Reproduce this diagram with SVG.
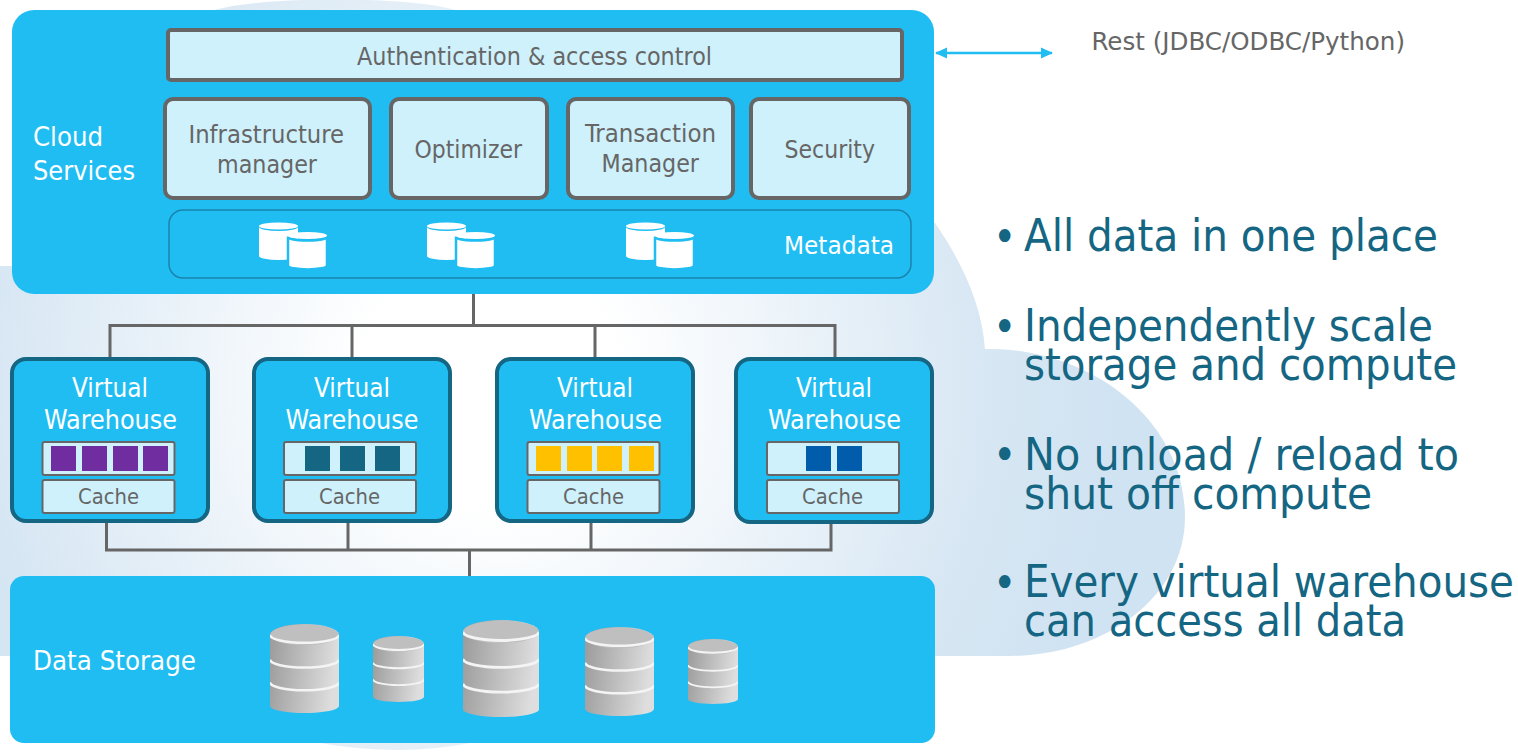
<svg xmlns="http://www.w3.org/2000/svg" xmlns:xlink="http://www.w3.org/1999/xlink" width="1518" height="755" viewBox="0 0 1518 755">
<style>
text{font-family:"DejaVu Sans Condensed","DejaVu Sans","Liberation Sans",sans-serif;font-stretch:condensed}
.panel{fill:#20BDF3}
.box{fill:#CFF1FC;stroke:#666;stroke-width:4}
.slot{fill:#CFF1FC;stroke:#666;stroke-width:2}
.vw{fill:#20BDF3;stroke:#146683;stroke-width:4}
.g{fill:#666;font-size:25px}
.w{fill:#fff;font-size:27px}
.c{fill:#666;font-size:22px}
.b{fill:#146683;font-size:44px}
.lnk{fill:none;stroke:#666;stroke-width:3}
.db{fill:#fff}
.band{fill:none;stroke:#f4f4f4;stroke-width:2.6}
</style>
<defs>
<radialGradient id="cloudFill" gradientUnits="userSpaceOnUse" cx="490" cy="380" r="640">
<stop offset="0.2" stop-color="#fff"/><stop offset="0.8" stop-color="#D6E6F3"/><stop offset="1" stop-color="#D0E3F2"/>
</radialGradient>
<linearGradient id="cyl" x1="0" x2="1" y1="0" y2="0.15">
<stop offset="0" stop-color="#9a9a9a"/><stop offset="1" stop-color="#dedede"/>
</linearGradient>
<symbol id="store" viewBox="0 0 70 90" preserveAspectRatio="none">
<path d="M0 11A35 11 0 0 1 70 11V83A35 7 0 0 1 0 83Z" fill="url(#cyl)"/>
<ellipse cx="35" cy="11" rx="35" ry="10.500" fill="#bfbfbf"/>
<path class="band" d="M0 11A35 8 0 0 0 70 11M0 36A35 8 0 0 0 70 36M0 59A35 8 0 0 0 70 59"/>
</symbol>
<symbol id="mini" viewBox="-2 -2 43 43" overflow="visible">
<path d="M0 5A19.500 4 0 0 0 39 5V34A19.500 4 0 0 1 0 34Z"/>
<ellipse cx="19.500" cy="4" rx="19.500" ry="3.600" stroke="none"/>
</symbol>
<g id="pair">
<use xlink:href="#mini" href="#mini" x="-2" y="-2" width="43" height="43" class="db"/>
<use xlink:href="#mini" href="#mini" x="27" y="7.500" width="43" height="43" class="db" stroke="#20BDF3" stroke-width="2.500"/>
</g>
<marker id="ah" viewBox="0 0 12 12" refX="11" refY="6" markerWidth="12" markerHeight="12" markerUnits="userSpaceOnUse" orient="auto-start-reverse">
<path d="M0 0.500L12 6L0 11.500Z" fill="#20BDF3"/>
</marker>
</defs>

<path id="cloud" fill="url(#cloudFill)" d="M0 266H20L215 10C260 -4 410 -4 455 10L935 223C962 262 982 305 985 349C1090 347 1185 420 1185 517C1185 600 1100 656 1010 656H470V743Q400 757 320 743V656H0Z"/>

<g id="connectors">
<path class="lnk" d="M473.500 294V325.500M110 357V325.500H835V357M352 325.500V357M595 325.500V357"/>
<path class="lnk" d="M106.500 523V550H831V523M348 523V550M591 523V550M469.500 550V577"/>
<path d="M936 53H1052" fill="none" stroke="#20BDF3" stroke-width="2.400" marker-start="url(#ah)" marker-end="url(#ah)"/>
</g>

<g id="cloud-services">
<rect class="panel" x="12" y="10" width="922" height="284" rx="22"/>
<text class="w" x="33" y="146" textLength="70" lengthAdjust="spacingAndGlyphs">Cloud</text>
<text class="w" x="33" y="180" textLength="102" lengthAdjust="spacingAndGlyphs">Services</text>
</g>
<g id="auth"><rect class="box" x="168" y="30" width="734" height="50" rx="3"/>
<text class="g" x="357" y="65" textLength="355" lengthAdjust="spacingAndGlyphs">Authentication &amp; access control</text></g>
<g id="infra"><rect class="box" x="165" y="99" width="205" height="99" rx="8"/>
<text class="g" x="188.500" y="143" textLength="155.500" lengthAdjust="spacingAndGlyphs">Infrastructure</text>
<text class="g" x="217" y="173" textLength="100" lengthAdjust="spacingAndGlyphs">manager</text></g>
<g id="optimizer"><rect class="box" x="391" y="99" width="156" height="99" rx="8"/>
<text class="g" x="414.500" y="158" textLength="107.500" lengthAdjust="spacingAndGlyphs">Optimizer</text></g>
<g id="transaction"><rect class="box" x="568" y="99" width="165" height="99" rx="8"/>
<text class="g" x="585" y="142" textLength="131" lengthAdjust="spacingAndGlyphs">Transaction</text>
<text class="g" x="601.500" y="172" textLength="97.500" lengthAdjust="spacingAndGlyphs">Manager</text></g>
<g id="security"><rect class="box" x="751" y="99" width="158" height="99" rx="8"/>
<text class="g" x="784.500" y="158" textLength="90.500" lengthAdjust="spacingAndGlyphs">Security</text></g>
<g id="metadata">
<rect x="169" y="210" width="742" height="68" rx="14" fill="none" stroke="#1A84AC" stroke-width="1.500"/>
<use xlink:href="#pair" href="#pair" x="259" y="222"/>
<use xlink:href="#pair" href="#pair" x="427" y="222"/>
<use xlink:href="#pair" href="#pair" x="626" y="222"/>
<text class="g" style="fill:#fff" x="784" y="254" textLength="110" lengthAdjust="spacingAndGlyphs">Metadata</text>
</g>

<g id="vw1"><rect class="vw" x="12" y="359" width="196" height="162" rx="14"/>
<text class="w" x="72" y="397" textLength="76" lengthAdjust="spacingAndGlyphs">Virtual</text>
<text class="w" x="44" y="429" textLength="133" lengthAdjust="spacingAndGlyphs">Warehouse</text>
<rect class="slot" x="42.500" y="442" width="132" height="33" rx="2"/>
<g fill="#6F2DA0"><rect x="51" y="446" width="25" height="25"/><rect x="82" y="446" width="25" height="25"/><rect x="113" y="446" width="25" height="25"/><rect x="143" y="446" width="25" height="25"/></g>
<rect class="slot" x="42.500" y="480" width="132" height="33" rx="2"/>
<text class="c" x="78" y="504" textLength="61" lengthAdjust="spacingAndGlyphs">Cache</text></g>

<g id="vw2"><rect class="vw" x="254" y="359" width="196" height="162" rx="14"/>
<text class="w" x="314" y="397" textLength="76" lengthAdjust="spacingAndGlyphs">Virtual</text>
<text class="w" x="285.500" y="429" textLength="133" lengthAdjust="spacingAndGlyphs">Warehouse</text>
<rect class="slot" x="284" y="442" width="132" height="33" rx="2"/>
<g fill="#146683"><rect x="305" y="446" width="25" height="25"/><rect x="340" y="446" width="25" height="25"/><rect x="375" y="446" width="25" height="25"/></g>
<rect class="slot" x="284" y="480" width="132" height="33" rx="2"/>
<text class="c" x="319" y="504" textLength="61" lengthAdjust="spacingAndGlyphs">Cache</text></g>

<g id="vw3"><rect class="vw" x="497" y="359" width="196" height="162" rx="14"/>
<text class="w" x="557" y="397" textLength="76" lengthAdjust="spacingAndGlyphs">Virtual</text>
<text class="w" x="529" y="429" textLength="133" lengthAdjust="spacingAndGlyphs">Warehouse</text>
<rect class="slot" x="527.500" y="442" width="132" height="33" rx="2"/>
<g fill="#FFC000"><rect x="536" y="446" width="25" height="25"/><rect x="567" y="446" width="25" height="25"/><rect x="597" y="446" width="25" height="25"/><rect x="629" y="446" width="25" height="25"/></g>
<rect class="slot" x="527.500" y="480" width="132" height="33" rx="2"/>
<text class="c" x="563" y="504" textLength="61" lengthAdjust="spacingAndGlyphs">Cache</text></g>

<g id="vw4"><rect class="vw" x="736" y="359" width="196" height="163" rx="14"/>
<text class="w" x="796" y="397" textLength="76" lengthAdjust="spacingAndGlyphs">Virtual</text>
<text class="w" x="768" y="429" textLength="133" lengthAdjust="spacingAndGlyphs">Warehouse</text>
<rect class="slot" x="767" y="442" width="132" height="33" rx="2"/>
<g fill="#015CAB"><rect x="806" y="446" width="25" height="25"/><rect x="837" y="446" width="25" height="25"/></g>
<rect class="slot" x="767" y="480" width="132" height="33" rx="2"/>
<text class="c" x="802" y="504" textLength="61" lengthAdjust="spacingAndGlyphs">Cache</text></g>

<g id="data-storage">
<rect class="panel" x="10" y="576" width="925" height="167" rx="14"/>
<text class="w" x="33" y="670" textLength="163" lengthAdjust="spacingAndGlyphs">Data Storage</text>
<use xlink:href="#store" href="#store" x="270" y="624" width="69" height="89"/>
<use xlink:href="#store" href="#store" x="373" y="636" width="51" height="66"/>
<use xlink:href="#store" href="#store" x="463" y="620" width="76" height="97"/>
<use xlink:href="#store" href="#store" x="585" y="627" width="69" height="89"/>
<use xlink:href="#store" href="#store" x="688" y="639" width="50" height="65"/>
</g>

<g id="rest"><text class="g" x="1091.500" y="50" textLength="313.500" lengthAdjust="spacingAndGlyphs">Rest (JDBC/ODBC/Python)</text></g>

<g id="bullets">
<text class="b" x="993" y="252">•</text>
<text class="b" x="1024" y="251" textLength="414" lengthAdjust="spacingAndGlyphs">All data in one place</text>
<text class="b" x="993" y="342">•</text>
<text class="b" x="1024" y="341" textLength="409" lengthAdjust="spacingAndGlyphs">Independently scale</text>
<text class="b" x="1024" y="380" textLength="433" lengthAdjust="spacingAndGlyphs">storage and compute</text>
<text class="b" x="993" y="470">•</text>
<text class="b" x="1024" y="470" textLength="435" lengthAdjust="spacingAndGlyphs">No unload / reload to</text>
<text class="b" x="1024" y="509" textLength="348" lengthAdjust="spacingAndGlyphs">shut off compute</text>
<text class="b" x="993" y="598">•</text>
<text class="b" x="1024" y="597" textLength="490" lengthAdjust="spacingAndGlyphs">Every virtual warehouse</text>
<text class="b" x="1024" y="636" textLength="382" lengthAdjust="spacingAndGlyphs">can access all data</text>
</g>
</svg>
